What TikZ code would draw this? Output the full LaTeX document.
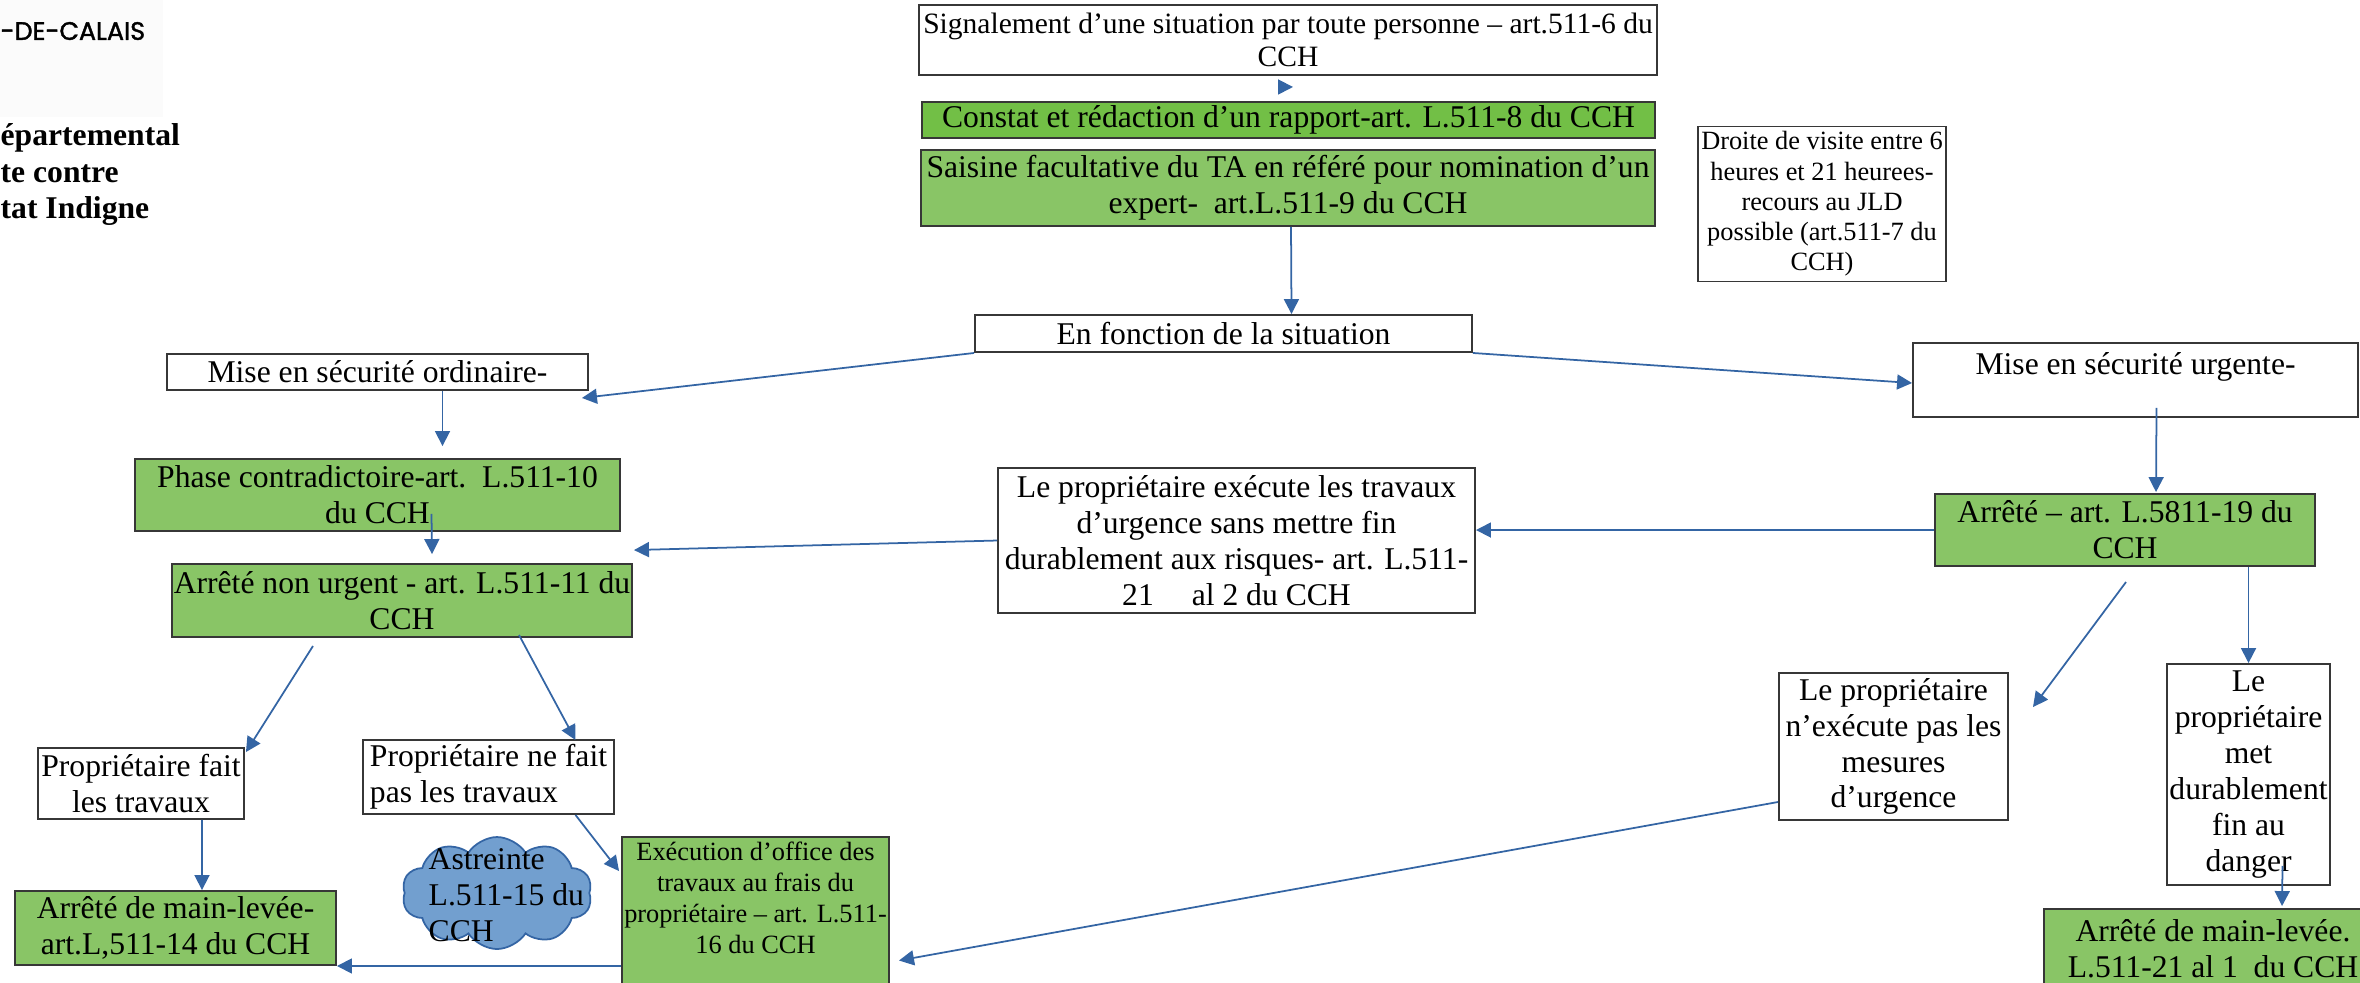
\documentclass[tikz,border=0pt]{standalone}
\usepackage{fontspec}
\setmainfont{Liberation Serif}
\newfontfamily\logofont[FakeBold=1.5]{Poppins}
\usetikzlibrary{arrows.meta,positioning,calc,shapes.symbols}
\definecolor{LineBlue}{RGB}{52,101,164}
\definecolor{CloudBlue}{RGB}{114,159,207}
\definecolor{BoxGreen}{RGB}{137,197,102}
\definecolor{BrightGreen}{RGB}{114,191,70}
\definecolor{BoxLine}{RGB}{55,55,55}
\definecolor{LogoGray}{RGB}{251,251,251}

\begin{document}
\begin{tikzpicture}[x=0.1mm,y=-0.1mm,
  box/.style={draw=BoxLine,line width=0.55pt,fill=white,inner sep=0pt,align=center,
    font=\fontsize{9}{10.2}\selectfont},
  greenbox/.style={box,fill=BoxGreen},
  smallbox/.style={box,font=\fontsize{7.5}{8.6}\selectfont},
  plain/.style={inner sep=0pt,align=center,font=\fontsize{9}{10.2}\selectfont},
  astreinte/.style={cloud,cloud puffs=10,cloud puff arc=115,aspect=1.6,
    fill=CloudBlue,draw=LineBlue,line width=0.5pt,inner sep=0pt},
  arr/.style={-{Triangle[length=1.5mm,width=1.5mm]},LineBlue,line width=0.5pt}]
  \useasboundingbox (0,0) rectangle (2360,982);

  % logo
  \fill[LogoGray] (0,0) rectangle (163,117);
  \node[inner sep=0pt,anchor=west,font=\logofont\fontsize{7.2}{8}\selectfont] (dep) at (0,31) {-DE-CALAIS};
  \node[inner sep=0pt,anchor=north west,align=left,font=\bfseries\fontsize{9}{10.4}\selectfont] (pole) at (0,123)
    {épartemental\\te contre\\tat Indigne};

  % top chain
  \node[box,minimum width=73.8mm,minimum height=7mm,font=\fontsize{8.4}{9.4}\selectfont] (sig) at (1288,40)
    {Signalement d’une situation par toute personne – art.511-6 du\\CCH};
  \node[box,fill=BrightGreen,minimum width=73.3mm,minimum height=3.6mm] (constat) at (1288.5,120)
    {Constat et rédaction d’un rapport-art. L.511-8 du CCH};
  \node[greenbox,minimum width=73.4mm,minimum height=7.6mm] (saisine) at (1288,188)
    {Saisine facultative du TA en référé pour nomination d’un\\expert-\ \ art.L.511-9 du CCH};
  \node[smallbox,minimum width=24.8mm,minimum height=15.5mm] (droit) at (1822,204)
    {Droite de visite entre 6\\heures et 21 heurees-\\recours au JLD\\possible (art.511-7 du\\CCH)};
  \node[box,minimum width=49.7mm,minimum height=3.7mm] (fonction) at (1223.5,333.5) {En fonction de la situation};

  % ordinary branch
  \node[box,minimum width=42.1mm,minimum height=3.6mm] (ordinaire) at (377.5,372) {Mise en sécurité ordinaire-};
  \node[greenbox,minimum width=48.5mm,minimum height=7.2mm] (phase) at (377.5,495)
    {Phase contradictoire-art.\ \ L.511-10\\du CCH};
  \node[greenbox,minimum width=46mm,minimum height=7.3mm] (nonurg) at (402,600.5)
    {Arrêté non urgent - art. L.511-11 du\\CCH};
  \node[box,minimum width=20.6mm,minimum height=7.1mm] (fait) at (141,783.5) {Propriétaire fait\\les travaux};
  \node[box,minimum width=25.1mm,minimum height=7.4mm,align=left] (nefait) at (488.5,777)
    {Propriétaire ne fait\\pas les travaux};
  \node[greenbox,minimum width=32.1mm,minimum height=7.4mm] (mainlev) at (175.5,928)
    {Arrêté de main-levée-\\art.L,511-14 du CCH};
  \node[astreinte,minimum width=19mm,minimum height=11.2mm] (astr) at (497,893) {};
  \node[plain,anchor=west,align=left] (astrtxt) at (428,895) {Astreinte\\L.511-15 du\\CCH};
  \node[greenbox,minimum width=26.7mm,minimum height=15.3mm] (office) at (755.5,913.5) {};
  \node[plain,anchor=north,font=\fontsize{7.5}{8.8}\selectfont] (officetxt) at (755.5,841)
    {Exécution d’office des\\travaux au frais du\\propriétaire – art. L.511-\\16 du CCH};

  % urgent branch
  \node[box,minimum width=44.5mm,minimum height=7.4mm] (urgente) at (2135.5,380) {};
  \node[plain] (urgentetxt) at (2135.5,367) {Mise en sécurité urgente-};
  \node[greenbox,minimum width=38mm,minimum height=7.2mm] (arrurg) at (2125,530)
    {Arrêté – art. L.5811-19 du\\CCH};
  \node[box,minimum width=47.7mm,minimum height=14.5mm] (execu) at (1236.5,540.5)
    {Le propriétaire exécute les travaux\\d’urgence sans mettre fin\\durablement aux risques- art. L.511-\\21\hspace{1.2em}al 2 du CCH};
  \node[box,minimum width=22.9mm,minimum height=14.7mm] (nexec) at (1893.5,746.5)
    {Le propriétaire\\n’exécute pas les\\mesures\\d’urgence};
  \node[box,minimum width=16.3mm,minimum height=22.1mm] (met) at (2248.5,774.5)
    {Le\\propriétaire\\met\\durablement\\fin au\\danger};
  \node[greenbox,minimum width=33.8mm,minimum height=8mm] (mainlev2) at (2213,949)
    {Arrêté de main-levée.\\L.511-21 al 1\ \ du CCH};

  % connectors
  \draw[arr] ($(sig.south)+(-7,11)$) -- ($(sig.south)+(5,11)$);
  \draw[arr] ($(saisine.south)+(3,0)$) -- ($(fonction.north)+(68,0)$);
  \draw[arr] (fonction.south west) -- ($(ordinaire.south east)+(-7,7)$);
  \draw[arr] (fonction.south east) -- ($(urgente.west)+(0,3)$);
  \draw[arr] ($(ordinaire.south)+(65,0)$) -- ($(phase.north)+(65,-12)$);
  \draw[arr] ($(phase.south)+(54,-18)$) -- ($(nonurg.north)+(30,-9)$);
  \draw[arr] (execu.west) -- ($(nonurg.north east)+(1,-13)$);
  \draw[arr] (arrurg.west) -- (arrurg.west -| execu.east);
  \draw[arr] ($(urgente.south)+(21,-10)$) -- ($(arrurg.north)+(31,-1)$);
  \draw[arr] ($(nonurg.south)+(-89,8)$) -- ($(fait.north east)+(1,5)$);
  \draw[arr] ($(nonurg.south)+(117,-3)$) -- ($(nefait.north)+(87,1)$);
  \draw[arr] ($(fait.south)+(61,0)$) -- ($(mainlev.north)+(26.5,0)$);
  \draw[arr] ($(nefait.south)+(87,0)$) -- ($(office.north west)+(-2,35)$);
  \draw[arr] (mainlev.south east -| office.west) -- (mainlev.south east);
  \draw[arr] ($(arrurg.south)+(1,15)$) -- ($(nexec.north east)+(24,35)$);
  \draw[arr] (met.north |- arrurg.south) -- (met.north);
  \draw[arr] ($(met.south)+(34,-20)$) -- ($(mainlev2.north)+(69,-2)$);
  \draw[arr] ($(nexec.south west)+(0,-19)$) -- ($(office.east)+(9,47)$);
\end{tikzpicture}
\end{document}
